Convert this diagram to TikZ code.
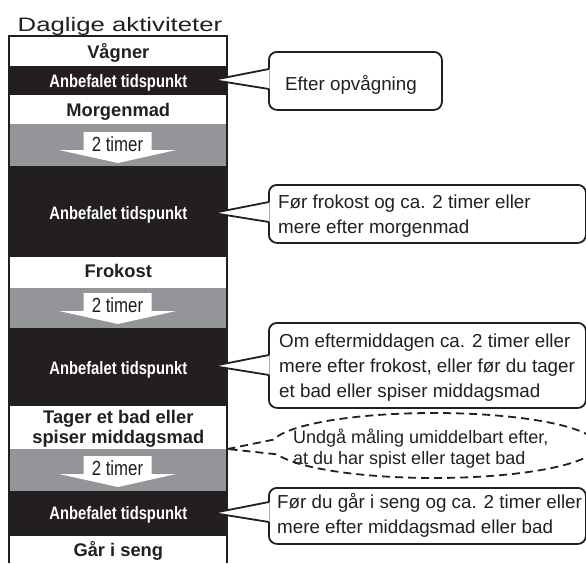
\documentclass[tikz,border=0pt]{standalone}
\usepackage{fontspec}
\setmainfont{Liberation Sans}
\newfontfamily\narrowfont[FakeStretch=0.82]{Liberation Sans}
\newfontfamily\widefont[FakeStretch=1.32]{Liberation Sans}
\usetikzlibrary{calc}
\definecolor{ink}{HTML}{231F20}
\definecolor{band}{HTML}{939598}
\tikzset{
  lab/.style={font=\bfseries\fontsize{18.3}{20}\selectfont, text=ink, anchor=base, inner sep=0pt, align=center},
  rec/.style={font=\narrowfont\bfseries\fontsize{18}{20}\selectfont, text=white, anchor=base, inner sep=0pt},
  hrs/.style={font=\narrowfont\fontsize{20.5}{24}\selectfont, text=ink, anchor=base, inner sep=0pt},
  ctext/.style={font=\fontsize{18.8}{25}\selectfont, text=ink, anchor=base west, inner sep=0pt, align=left},
  cbox/.style={draw=ink, line width=1.8pt, rounded corners=8pt, fill=white, inner sep=0pt, anchor=north west},
  ptr/.style={draw=ink, line width=1.8pt, line join=round},
  twohours/.pic={
    \fill[white] (-34,0) -- (34,0) -- (34,18) -- (58.5,18) -- (0.5,31) -- (-58.5,18) -- (-34,18) -- cycle;
    \node[hrs] (-t) at (0,19.5) {2 timer};
  }
}
\begin{document}
\begin{tikzpicture}[x=1pt,y=-1pt]
\useasboundingbox (0,0) rectangle (586,563);
% title
\node[font=\widefont\fontsize{19.5}{22}\selectfont, text=ink, anchor=base west, inner sep=0pt] (title) at (17.5,31) {Daglige aktiviteter};
% bands
\fill[white] (9.3,36) rectangle (227.4,563);
\fill[ink] (9.3,66) rectangle (227.4,95);
\fill[band] (9.3,124) rectangle (227.4,166);
\fill[ink] (9.3,166) rectangle (227.4,256.5);
\fill[band] (9.3,288) rectangle (227.4,328);
\fill[ink] (9.3,328) rectangle (227.4,406);
\fill[band] (9.3,449) rectangle (227.4,491);
\fill[ink] (9.3,491) rectangle (227.4,536);
% arrows
\pic (g1) at (117.5,132) {twohours};
\pic (g2) at (117.5,293) {twohours};
\pic (g3) at (117.5,456) {twohours};
% labels
\node[lab] (l1) at (118.3,58) {Vågner};
\node[rec] (r1) at (118.3,87) {Anbefalet tidspunkt};
\node[lab] (l2) at (118.3,116.5) {Morgenmad};
\node[rec] (r2) at (118.3,219) {Anbefalet tidspunkt};
\node[lab] (l3) at (118.3,277.5) {Frokost};
\node[rec] (r3) at (118.3,374) {Anbefalet tidspunkt};
\node[lab] (l4) at (118.3,443.3) {Tager et bad eller\\spiser middagsmad};
\node[rec] (r4) at (118.3,519) {Anbefalet tidspunkt};
\node[lab] (l5) at (118.3,556.5) {Går i seng};
% frame
\draw[ink, line width=2pt] (9.3,563) -- (9.3,36) -- (227.4,36) -- (227.4,563);
% callout boxes
\node[cbox, minimum width=173pt, minimum height=58pt] (c1) at (268,51) {};
\node[cbox, minimum width=317pt, minimum height=58pt] (c2) at (268,184) {};
\node[cbox, minimum width=317pt, minimum height=85pt] (c3) at (268,322) {};
\node[cbox, minimum width=317pt, minimum height=56pt] (c5) at (268,487) {};
\coordinate (p1) at (213,80);
\coordinate (p2) at (213,213);
\coordinate (p3) at (213,366);
\coordinate (p5) at (213,513);
\foreach \c/\p in {c1/p1, c2/p2, c3/p3, c5/p5}{
  \fill[white] ($(\p -| \c.west)+(1.6,-11)$) -- (\p) -- ($(\p -| \c.west)+(1.6,9)$) -- cycle;
  \draw[ptr] ($(\p -| \c.west)+(0.9,-11)$) -- (\p) -- ($(\p -| \c.west)+(0.9,9)$);
}
\node[ctext, anchor=base] (t1) at (351,90) {Efter opvågning};
\node[ctext] (t2) at (278,233.3) {Før frokost og ca. 2 timer eller\\mere efter morgenmad};
\node[ctext] (t3) at (279,397) {Om eftermiddagen ca. 2 timer eller\\mere efter frokost, eller før du tager\\et bad eller spiser middagsmad};
\node[ctext] (t5) at (277,533.3) {Før du går i seng og ca. 2 timer eller\\mere efter middagsmad eller bad};
% dashed ellipse callout (centre 434,445.5; radii 163 x 32.5)
\coordinate (ec) at (434,445.5);
\coordinate (etip) at (227.4,449);
\coordinate (j1) at ({434+163*cos(190.48)},{445.5+32.5*sin(190.48)});
\draw[ink, line width=1.8pt, dash pattern=on 8pt off 5pt, line join=round]
  (etip) -- (j1) -- plot[domain=190.48:524.17, samples=120, smooth] ({434+163*cos(\x)},{445.5+32.5*sin(\x)}) -- (etip);
\node[ctext, font=\fontsize{18}{21}\selectfont] (t4) at (293,464.3) {Undgå måling umiddelbart efter,\\at du har spist eller taget bad};
\end{tikzpicture}
\end{document}
